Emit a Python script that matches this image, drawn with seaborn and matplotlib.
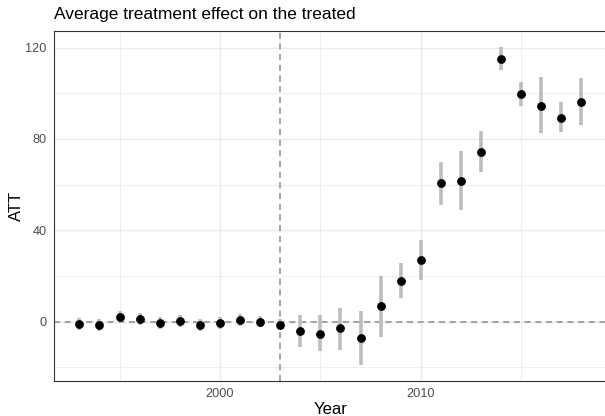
import numpy as np
import pandas as pd
import matplotlib
matplotlib.use("Agg")
import matplotlib.pyplot as plt
import seaborn as sns

years = list(range(1993, 2019))
att = [-1.0, -1.5, 2.0, 1.3, -0.5, 0.3, -1.5, -0.5, 0.8, 0.0, -1.3,
       -4.0, -5.4, -2.9, -7.3, 6.7, 18.0, 27.0, 60.6, 61.5, 74.2,
       115.0, 99.6, 94.5, 89.3, 96.3]
ci_low = [-3.5, -4.0, -0.5, -1.2, -3.0, -2.2, -4.0, -3.0, -1.7, -2.5, -3.8,
          -11.0, -13.0, -12.2, -18.8, -6.7, 10.3, 18.3, 51.3, 48.9, 65.6,
          110.0, 94.5, 82.8, 83.1, 86.2]
ci_high = [1.5, 1.0, 4.5, 3.8, 2.0, 2.8, 1.0, 2.0, 3.3, 2.5, 1.2,
           3.0, 3.0, 6.2, 4.5, 20.0, 25.6, 35.8, 69.8, 74.6, 83.3,
           120.4, 104.9, 107.1, 96.0, 106.5]
treat_year = 2003

df = pd.DataFrame({"Year": years, "ATT": att, "lo": ci_low, "hi": ci_high})

sns.set_theme(style="white")
plt.rcParams["font.family"] = ["Liberation Sans", "DejaVu Sans"]

fig = plt.figure(figsize=(6.05, 4.16), dpi=100)
ax = fig.add_axes([54.3 / 605, 1 - 380.5 / 416, (606.5 - 54.3) / 605, (380.5 - 30.7) / 416])

# grid
for v in [1995, 2000, 2005, 2010, 2015]:
    ax.axvline(v, color="#EBEBEB", lw=1.0 if v % 10 == 0 else 0.6, zorder=0)
for v in [-20, 0, 20, 40, 60, 80, 100, 120]:
    ax.axhline(v, color="#EBEBEB", lw=1.0 if v % 40 == 0 else 0.6, zorder=0)

ax.axhline(0, color="#8C8C8C", lw=1.1, ls=(0, (4, 3)), zorder=1)
ax.axvline(treat_year, color="#8C8C8C", lw=1.1, ls=(0, (4, 3)), zorder=1)

ax.vlines(df["Year"], df["lo"], df["hi"], color="#BDBDBD", lw=2.6, zorder=2)
sns.scatterplot(data=df, x="Year", y="ATT", ax=ax, color="black", s=40,
                edgecolor="black", linewidth=0, zorder=3)

ax.set_xlim(1991.75, 2019.25)
ax.set_ylim(-25.7, 127.4)
ax.set_xticks([2000, 2010])
ax.set_yticks([0, 40, 80, 120])
ax.tick_params(axis="both", colors="#333333", labelcolor="#4D4D4D",
               labelsize=9.2, length=4, width=0.8, direction="out", pad=1.5)
for s in ax.spines.values():
    s.set_color("#333333")
    s.set_linewidth(0.8)

ax.set_xlabel("Year", fontsize=12, color="black", labelpad=1)
ax.set_ylabel("ATT", fontsize=12, color="black", labelpad=1)
fig.text(54.3 / 605, 1 - 15 / 416, "Average treatment effect on the treated",
         fontsize=12.5, color="black", va="center", ha="left")

fig.savefig("out.png", dpi=100)
